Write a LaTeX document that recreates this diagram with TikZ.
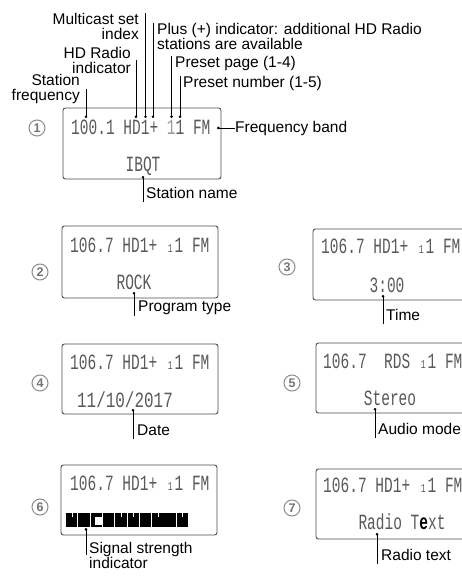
\documentclass[tikz,border=0pt]{standalone}
\usepackage{fontspec}
\setmainfont{Liberation Sans}
\newfontfamily\lcdfont{Liberation Mono}
\usetikzlibrary{arrows.meta}
\tikzset{
  lcdbox/.style={draw=black!70, line width=0.9pt, rounded corners=2.5pt},
  lcd/.style={inner sep=0pt, anchor=west, text=black!65, font=\lcdfont\fontsize{14.5}{15}\selectfont},
  lcdmid/.style={lcd, anchor=center},
  lbl/.style={inner sep=0pt, font=\fontsize{15.5}{15}\selectfont},
  tag/.style={lbl, anchor=base west, text depth=4pt},
  leader/.style={draw, line width=0.7pt, {Circle[length=2.6pt]}-},
  numcirc/.style={circle, draw=black!45, line width=1pt, minimum size=16pt, inner sep=0pt, text=black!55, font=\fontsize{12.5}{12.5}\selectfont\bfseries},
}
\newcommand\tall[1]{\scalebox{1}[1.5]{#1}}
\newcommand\pg{\makebox[0.6em][c]{\fontsize{8}{8}\selectfont 1}}

\begin{document}
\begin{tikzpicture}[x=1pt,y=-1pt]
    \useasboundingbox (0,0) rectangle (462,577);
    \clip (0,0) rectangle (462,577);
    % panel 1
    \draw[lcdbox] (63,108) rectangle (221,179);
    \node[numcirc] (n1) at (37,128) {1};
    \node[lcd] (top1) at (71,127) {\tall{100.1 HD1+ {\color{black!40}1}1 FM}};
    \node[lcdmid] (bot1) at (143,166) {\tall{IBQT}};
    \coordinate (fdot) at (86,118);
    \coordinate (hddot) at (136,118);
    \coordinate (mcdot) at (145.5,118);
    \coordinate (pldot) at (153,118);
    \coordinate (pgdot) at (171.5,118);
    \coordinate (nrdot) at (180,118);
    \coordinate (fbdot) at (217,128);
    \coordinate (sndot) at (143,176);
    \node[lbl, anchor=east, align=right] (fq) at (80,89) {Station\\frequency};
    \node[lbl, anchor=east, align=right] (hd) at (131,60) {HD Radio\\indicator};
    \node[lbl, anchor=east, align=right] (mc) at (139,26) {Multicast set\\index};
    \node[lbl, anchor=north west, align=left] (pl) at (157,23) {Plus (+) indicator: additional HD Radio\\stations are available};
    \node[lbl, anchor=north west] (pp) at (175,56) {Preset page (1-4)};
    \node[lbl, anchor=north west] (pn) at (183,76) {Preset number (1-5)};
    \node[lbl, anchor=west] (fb) at (235,128) {Frequency band};
    \node[tag] (sn) at (146,198) {Station name};
    \draw[leader] (fdot) -- (fdot |- fq.center);
    \draw[leader] (hddot) -- (hddot |- hd.center);
    \draw[leader] (mcdot) -- (mcdot |- mc.north);
    \draw[leader] (pldot) -- (pldot |- pl.north);
    \draw[leader] (pgdot) -- (pgdot |- pp.north);
    \draw[leader] (nrdot) -- (nrdot |- pn.north);
    \draw[leader] (fbdot) -- (fb.west);
    \draw[leader] (sndot) -- (sndot |- sn.south);
    % panel 2
    \draw[lcdbox] (62,226) rectangle (218,298);
    \node[numcirc] (n2) at (40,272) {2};
    \node[lcd] (top2) at (70,245) {\tall{106.7 HD1+ \pg1 FM}};
    \node[lcdmid] (bot2) at (134,282) {\tall{ROCK}};
    \coordinate (ptdot) at (134,292);
    \node[tag] (pt) at (138,311.5) {Program type};
    \draw[leader] (ptdot) -- (ptdot |- pt.south);
    % panel 3
    \draw[lcdbox] (313,229) rectangle (480,300);
    \node[numcirc] (n3) at (287,267) {3};
    \node[lcd] (top3) at (321,246) {\tall{106.7 HD1+ \pg1 FM}};
    \node[lcdmid] (bot3) at (387,285) {\tall{3:00}};
    \coordinate (tmdot) at (383,295);
    \node[tag] (tm) at (386,320) {Time};
    \draw[leader] (tmdot) -- (tmdot |- tm.south);
    % panel 4
    \draw[lcdbox] (62,344) rectangle (218,414);
    \node[numcirc] (n4) at (40,383) {4};
    \node[lcd] (top4) at (70,362) {\tall{106.7 HD1+ \pg1 FM}};
    \node[lcdmid] (bot4) at (125,400) {\scalebox{1.1}[1.5]{11/10/2017}};
    \coordinate (dtdot) at (133,409);
    \node[tag] (dt) at (137,435) {Date};
    \draw[leader] (dtdot) -- (dtdot |- dt.south);
    % panel 5
    \draw[lcdbox] (316,343) rectangle (480,413);
    \node[numcirc] (n5) at (292,383) {5};
    \node[lcd] (top5) at (323,361) {\tall{106.7\ \ RDS \pg1 FM}};
    \node[lcdmid] (bot5) at (390,398) {\tall{Stereo}};
    \coordinate (amdot) at (375,408);
    \node[tag] (am) at (378,434) {Audio mode};
    \draw[leader] (amdot) -- (amdot |- am.south);
    % panel 6
    \draw[lcdbox] (61,465) rectangle (217,535);
    \node[numcirc] (n6) at (40,507) {6};
    \node[lcd] (top6) at (70,483) {\tall{106.7 HD1+ \pg1 FM}};
    \foreach \i in {0,...,9}
        \fill (66+\i*12.3,513) rectangle ++(11.4,14);
    \foreach \i in {0,4,5,7,9}
        \fill[white] (71.5+\i*12.3,513) rectangle ++(1,4);
    \fill[white] (95,517) rectangle (101.5,525);
    \coordinate (ssdot) at (86,528);
    \node[lbl, anchor=north west, align=left] (ss) at (89,542) {Signal strength\\indicator};
    \draw[leader] (ssdot) -- (ssdot |- ss.west);
    % panel 7
    \draw[lcdbox] (316,469) rectangle (480,539);
    \node[numcirc] (n7) at (292,508) {7};
    \node[lcd] (top7) at (323,485) {\tall{106.7 HD1+ \pg1 FM}};
    \node[lcdmid] (bot7) at (402,522) {\tall{Radio T{\color{black}\bfseries e}xt}};
    \coordinate (rtdot) at (377,533);
    \node[tag] (rt) at (381,560) {Radio text};
    \draw[leader] (rtdot) -- (rtdot |- rt.south);
\end{tikzpicture}
\end{document}
